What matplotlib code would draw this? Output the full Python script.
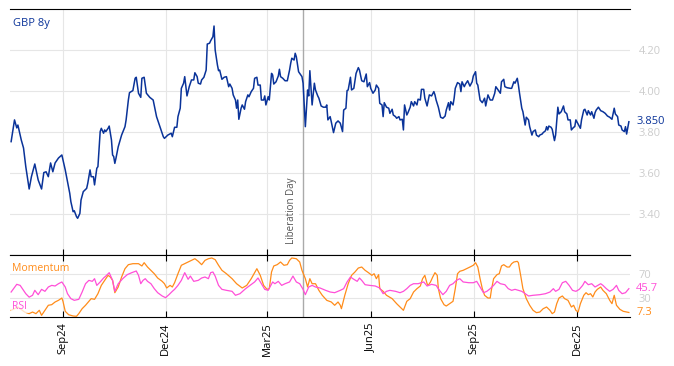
import numpy as np
import pandas as pd
import matplotlib
matplotlib.use('Agg')
import matplotlib.pyplot as plt
import matplotlib.dates as mdates
import matplotlib.transforms as mtransforms

plt.rcParams['font.family'] = ['Open Sans', 'DejaVu Sans']

START = pd.Timestamp('2024-07-16')
END_DAY = 550
LIBERATION = pd.Timestamp('2025-04-02')

# GBP 8y yield: days since START and level
gbp_days = [1, 4, 6, 7, 10, 12, 14, 17, 19, 22, 25, 28, 30, 32, 34, 36, 38, 40, 43, 46,
            49, 51, 53, 54, 56, 57, 59, 60, 62, 63, 65, 68, 69, 71, 72, 74, 75, 77, 78, 80,
            81, 83, 84, 85, 87, 88, 90, 91, 92, 93, 94, 96, 99, 102, 103, 105, 106, 109, 111, 112,
            114, 116, 117, 119, 121, 124, 127, 130, 133, 136, 137, 140, 143, 144, 146, 148, 149, 151, 152, 154,
            155, 157, 159, 161, 163, 164, 166, 167, 169, 170, 172, 174, 175, 177, 178, 180, 181, 182, 184, 185,
            186, 188, 190, 192, 194, 195, 197, 198, 200, 201, 202, 203, 205, 206, 208, 209, 211, 212, 214, 216,
            217, 219, 220, 222, 223, 225, 226, 227, 229, 230, 232, 233, 234, 236, 238, 239, 240, 242, 244, 246,
            248, 249, 250, 252, 253, 254, 256, 257, 259, 260, 262, 264, 265, 266, 268, 270, 271, 273, 274, 276,
            278, 280, 281, 282, 284, 285, 287, 289, 291, 293, 295, 296, 298, 299, 300, 302, 303, 305, 307, 309,
            310, 312, 314, 316, 317, 319, 320, 322, 324, 325, 327, 328, 330, 331, 332, 334, 336, 337, 339, 340,
            342, 343, 345, 346, 348, 349, 350, 352, 353, 355, 356, 358, 359, 361, 362, 364, 365, 367, 368, 370,
            372, 374, 376, 377, 378, 380, 382, 384, 386, 387, 389, 390, 391, 393, 394, 395, 397, 399, 400, 401,
            403, 404, 406, 408, 410, 411, 413, 414, 415, 417, 419, 421, 422, 424, 426, 428, 430, 431, 433, 435,
            436, 438, 439, 441, 444, 445, 447, 448, 450, 451, 452, 454, 455, 457, 458, 460, 461, 463, 464, 466,
            467, 469, 470, 472, 473, 475, 476, 477, 478, 480, 481, 483, 484, 486, 487, 489, 491, 492, 494, 495,
            497, 498, 500, 501, 502, 504, 506, 507, 509, 510, 512, 513, 515, 516, 518, 519, 520, 522, 524, 526,
            528, 530, 532, 534, 536, 537, 539, 540, 542, 543, 545, 546, 547, 549]
gbp_vals = [3.753, 3.859, 3.820, 3.834, 3.761, 3.722, 3.631, 3.522, 3.582, 3.644, 3.566, 3.522, 3.602, 3.606, 3.582, 3.649, 3.606, 3.649, 3.673, 3.688,
            3.615, 3.558, 3.501, 3.460, 3.411, 3.416, 3.387, 3.379, 3.403, 3.468, 3.509, 3.525, 3.550, 3.615, 3.582, 3.582, 3.542, 3.623, 3.631, 3.802,
            3.818, 3.794, 3.810, 3.802, 3.818, 3.829, 3.761, 3.688, 3.680, 3.647, 3.672, 3.728, 3.785, 3.826, 3.859, 3.956, 3.992, 4.002, 4.062, 4.067,
            3.989, 3.969, 4.062, 4.067, 3.989, 3.969, 3.956, 3.875, 3.826, 3.777, 3.769, 3.785, 3.794, 3.777, 3.823, 3.823, 3.875, 3.916, 4.013, 4.038,
            4.070, 3.976, 4.021, 4.054, 4.054, 4.089, 4.070, 4.038, 4.034, 4.054, 4.067, 4.102, 4.229, 4.233, 4.245, 4.265, 4.317, 4.200, 4.127, 4.099,
            4.102, 4.057, 4.067, 4.070, 4.021, 4.034, 4.013, 3.981, 3.956, 3.916, 3.956, 3.862, 3.916, 3.932, 3.911, 3.948, 3.981, 3.972, 3.997, 4.013,
            4.062, 4.067, 4.029, 4.029, 3.956, 3.956, 3.976, 3.932, 3.972, 3.956, 4.086, 4.078, 4.034, 4.045, 4.073, 4.106, 4.070, 4.062, 4.050, 4.050,
            4.102, 4.135, 4.160, 4.151, 4.184, 4.167, 4.094, 4.086, 4.070, 4.038, 3.826, 4.005, 3.976, 4.099, 3.932, 4.038, 4.005, 3.976, 3.965, 3.927,
            3.921, 3.921, 3.932, 3.859, 3.875, 3.850, 3.797, 3.843, 3.854, 3.843, 3.802, 3.907, 3.916, 4.002, 4.005, 4.067, 4.005, 4.013, 4.086, 4.114,
            4.102, 4.050, 4.045, 4.083, 4.021, 4.041, 4.013, 3.989, 4.005, 4.029, 4.013, 3.940, 3.932, 3.875, 3.943, 3.921, 3.916, 3.891, 3.911, 3.883,
            3.875, 3.867, 3.875, 3.859, 3.862, 3.810, 3.932, 3.883, 3.894, 3.921, 3.948, 3.927, 3.948, 3.932, 3.960, 3.956, 4.008, 4.008, 3.965, 3.927,
            3.981, 3.976, 3.997, 3.981, 3.956, 3.921, 3.872, 3.867, 3.878, 3.907, 3.943, 3.907, 3.948, 3.932, 3.965, 4.013, 4.041, 4.034, 3.997, 4.045,
            4.021, 4.033, 4.050, 4.024, 4.045, 4.073, 4.094, 4.038, 4.029, 3.956, 3.943, 3.965, 3.927, 3.981, 3.956, 3.956, 3.989, 4.021, 4.005, 3.989,
            4.045, 4.057, 4.021, 4.016, 4.013, 4.013, 4.045, 4.038, 4.062, 4.029, 3.989, 3.916, 3.899, 3.834, 3.872, 3.859, 3.826, 3.785, 3.802, 3.810,
            3.785, 3.777, 3.785, 3.790, 3.797, 3.806, 3.826, 3.810, 3.829, 3.823, 3.813, 3.758, 3.785, 3.921, 3.888, 3.899, 3.927, 3.899, 3.888, 3.859,
            3.859, 3.810, 3.823, 3.826, 3.859, 3.839, 3.818, 3.859, 3.907, 3.911, 3.883, 3.904, 3.883, 3.899, 3.867, 3.894, 3.907, 3.921, 3.904, 3.899,
            3.891, 3.878, 3.872, 3.862, 3.916, 3.888, 3.875, 3.834, 3.829, 3.810, 3.802, 3.826, 3.790, 3.850]

# RSI
rsi_days = [1, 6, 9, 12, 14, 17, 20, 22, 25, 28, 31, 34, 37, 40, 43, 46, 49, 51, 54, 57,
            61, 64, 67, 70, 73, 75, 77, 80, 83, 85, 88, 91, 93, 96, 100, 104, 108, 112, 114, 116,
            118, 120, 122, 125, 128, 131, 135, 138, 141, 144, 146, 149, 152, 155, 158, 160, 163, 167, 170, 173,
            176, 178, 180, 182, 185, 188, 192, 197, 200, 204, 209, 213, 217, 220, 223, 226, 229, 233, 235, 238,
            241, 244, 248, 251, 254, 257, 260, 262, 265, 268, 271, 275, 280, 284, 288, 293, 296, 299, 302, 305,
            308, 310, 312, 315, 319, 324, 328, 331, 334, 337, 342, 346, 349, 352, 355, 358, 362, 365, 367, 370,
            374, 378, 381, 384, 387, 390, 393, 396, 399, 402, 407, 411, 414, 417, 420, 423, 426, 429, 432, 435,
            439, 442, 445, 448, 451, 454, 457, 460, 464, 470, 475, 479, 482, 484, 487, 490, 493, 496, 499, 502,
            505, 508, 510, 513, 516, 519, 524, 526, 529, 532, 535, 538, 540, 543, 546, 549]
rsi_vals = [40.3, 52.7, 51.0, 43.0, 37.6, 32.0, 35.0, 43.0, 36.0, 44.6, 41.4, 48.4, 51.0, 50.0, 53.7, 56.5, 48.4, 37.6, 29.6, 26.9,
            28.5, 40.3, 53.7, 59.1, 57.5, 61.8, 51.0, 56.5, 62.9, 66.0, 71.5, 59.1, 41.4, 53.7, 61.8, 68.3, 71.5, 74.2, 67.2, 53.7,
            59.1, 61.8, 57.5, 53.7, 45.7, 39.2, 33.9, 31.2, 36.0, 41.4, 44.6, 51.0, 59.1, 71.5, 60.8, 66.0, 57.5, 59.1, 62.9, 64.5,
            61.8, 71.5, 72.6, 66.0, 51.0, 44.6, 43.0, 41.4, 35.0, 37.6, 45.7, 51.0, 56.5, 62.9, 53.7, 44.6, 43.0, 56.5, 53.7, 57.5,
            51.0, 53.7, 56.5, 66.0, 56.5, 53.7, 44.6, 36.0, 48.4, 51.0, 48.4, 46.8, 43.0, 40.3, 39.2, 43.0, 45.7, 56.5, 64.5, 60.8,
            57.5, 62.9, 59.1, 52.1, 51.0, 50.0, 46.8, 37.6, 41.4, 43.0, 41.4, 39.2, 41.4, 45.7, 51.0, 53.7, 53.7, 55.3, 56.5, 50.0,
            52.7, 51.0, 43.0, 36.0, 41.4, 51.0, 53.7, 59.1, 61.8, 56.5, 55.3, 55.3, 57.5, 48.4, 39.2, 41.4, 45.7, 51.0, 57.5, 53.7,
            52.1, 45.7, 43.0, 44.6, 43.0, 41.4, 37.6, 33.9, 35.0, 36.0, 37.6, 40.3, 45.7, 41.4, 44.6, 55.3, 57.5, 51.0, 43.0, 41.4,
            44.6, 51.0, 57.5, 52.1, 53.7, 48.4, 53.7, 51.0, 45.7, 41.4, 44.6, 51.0, 43.0, 37.6, 39.2, 45.7]

# Momentum (scaled 0-100)
mom_days = [1, 7, 13, 17, 20, 23, 26, 28, 31, 34, 37, 40, 43, 46, 47, 49, 52, 56, 59, 61,
            64, 67, 70, 72, 75, 78, 81, 84, 87, 89, 91, 93, 96, 99, 102, 105, 109, 114, 117, 119,
            122, 125, 128, 131, 135, 137, 139, 142, 144, 146, 149, 152, 155, 158, 161, 164, 167, 170, 173, 176,
            179, 182, 185, 188, 192, 197, 201, 206, 210, 214, 219, 222, 225, 228, 230, 232, 234, 237, 240, 243,
            246, 248, 250, 254, 257, 259, 262, 264, 266, 268, 271, 274, 277, 281, 285, 288, 291, 293, 294, 297,
            300, 303, 306, 309, 312, 315, 318, 321, 323, 325, 327, 328, 331, 334, 339, 343, 346, 349, 352, 355,
            358, 361, 364, 366, 368, 370, 371, 373, 375, 377, 379, 380, 382, 385, 387, 390, 393, 395, 397, 399,
            402, 405, 408, 411, 413, 415, 417, 419, 421, 424, 426, 427, 429, 432, 434, 436, 438, 441, 443, 445,
            447, 450, 451, 453, 455, 458, 461, 464, 467, 470, 473, 476, 479, 481, 483, 485, 487, 490, 492, 495,
            498, 500, 502, 504, 506, 509, 511, 513, 515, 517, 519, 521, 524, 526, 529, 532, 534, 536, 538, 541,
            544, 547, 549]
mom_vals = [10.8, 16.1, 8.0, 5.4, 8.0, 5.4, 10.8, 2.7, 10.8, 18.9, 19.9, 24.2, 26.9, 30.6, 25.3, 9.2, 3.7, 1.6, 1.1, 5.4,
            13.4, 18.9, 25.3, 29.6, 28.5, 37.6, 51.0, 59.1, 67.2, 64.5, 59.1, 39.2, 48.4, 64.5, 77.9, 84.4, 86.0, 86.0, 82.3, 87.6,
            80.6, 75.3, 69.8, 62.9, 57.5, 53.7, 46.8, 51.0, 48.4, 55.3, 69.8, 83.4, 86.0, 88.7, 91.4, 94.0, 89.8, 84.4, 91.4, 94.0,
            95.2, 92.5, 83.4, 75.3, 69.8, 61.8, 53.7, 46.8, 51.0, 61.8, 77.9, 67.2, 51.0, 44.6, 45.7, 72.6, 82.3, 84.4, 88.7, 83.4,
            84.4, 91.4, 95.2, 94.0, 88.7, 75.3, 61.8, 48.4, 61.8, 53.7, 53.7, 43.0, 35.0, 26.9, 24.2, 18.9, 24.2, 18.9, 13.4, 35.0,
            53.7, 67.2, 72.6, 79.0, 80.6, 75.3, 71.5, 67.2, 69.8, 61.8, 68.3, 45.7, 41.4, 35.0, 29.6, 21.5, 16.1, 10.8, 25.3, 29.6,
            40.3, 45.7, 50.0, 61.8, 67.2, 53.7, 51.0, 56.5, 64.5, 71.5, 67.2, 45.7, 29.6, 19.9, 17.7, 21.5, 25.3, 45.7, 69.8, 73.7,
            75.3, 77.9, 80.6, 83.4, 87.6, 80.6, 61.8, 45.7, 35.0, 30.6, 30.6, 43.0, 61.8, 68.3, 69.8, 82.3, 84.4, 80.6, 80.6, 86.0,
            88.7, 89.8, 87.6, 67.2, 45.7, 29.6, 18.9, 10.8, 7.0, 8.0, 13.4, 16.1, 10.8, 5.4, 8.0, 21.5, 30.6, 33.9, 29.6, 26.9,
            16.1, 18.9, 10.8, 8.0, 21.5, 35.0, 39.2, 36.0, 37.6, 32.3, 40.3, 44.6, 48.4, 43.0, 37.6, 26.9, 21.5, 35.0, 18.9, 12.4,
            9.2, 8.0, 7.3]

BLUE = '#0a3399'
PINK = '#ff4fd8'
ORANGE = '#ff8c1a'
GRID = '#e6e6e6'
TICKGREY = '#cccccc'


def to_dates(days):
    return START + pd.to_timedelta(days, unit='D')


fig = plt.figure(figsize=(6.74, 3.66), dpi=100)
ax = fig.add_axes([10 / 674, 1 - 255 / 366, 620 / 674, 246 / 366])
ax2 = fig.add_axes([10 / 674, 1 - 317 / 366, 620 / 674, 62 / 366], sharex=ax)

ax.plot(to_dates(gbp_days), gbp_vals, color=BLUE, lw=1.1, zorder=3)
ax2.plot(to_dates(mom_days), mom_vals, color=ORANGE, lw=0.9, zorder=3)
ax2.plot(to_dates(rsi_days), rsi_vals, color=PINK, lw=0.9, zorder=3)

ax.set_xlim(START, START + pd.Timedelta(days=END_DAY))
ax.set_ylim(3.20, 4.40)
ax2.set_ylim(0, 100)

for a in (ax, ax2):
    a.xaxis.set_major_locator(mdates.MonthLocator(bymonth=[3, 6, 9, 12]))
    a.xaxis.set_major_formatter(mdates.DateFormatter('%b%y'))
    a.grid(True, color=GRID, lw=0.8, zorder=0)
    a.spines['left'].set_visible(False)
    a.spines['right'].set_visible(False)
    a.yaxis.tick_right()
    a.tick_params(axis='y', length=0, labelsize=8, labelcolor=TICKGREY, pad=6)
    a.axvline(LIBERATION, color='#aaaaaa', lw=1, zorder=2)

ax.set_yticks([3.40, 3.60, 3.80, 4.00, 4.20])
ax.yaxis.set_major_formatter(plt.FuncFormatter(lambda v, p: f'{v:.2f}'))
ax.tick_params(axis='x', direction='in', length=4, bottom=True, top=False, labelbottom=False)

ax2.set_yticks([30, 70])
ax2.tick_params(axis='x', direction='in', length=4, top=True, bottom=True,
                labelsize=8, labelrotation=90, pad=4)

# labels
ax.text(0.005, 0.965, 'GBP 8y', transform=ax.transAxes, color=BLUE, fontsize=8, va='top', ha='left')
ax.text(LIBERATION - pd.Timedelta(days=5), 3.255, 'Liberation Day', rotation=90, fontsize=7,
        color='#555555', ha='right', va='bottom', zorder=4,
        bbox=dict(facecolor='white', edgecolor='none', pad=1))

tr = mtransforms.blended_transform_factory(ax.transAxes, ax.transData)
ax.text(1.01, gbp_vals[-1], f'{gbp_vals[-1]:.3f}', transform=tr, color=BLUE, fontsize=8, va='center')

tr2 = mtransforms.blended_transform_factory(ax2.transAxes, ax2.transData)
ax2.text(1.01, rsi_vals[-1], f'{rsi_vals[-1]:.1f}', transform=tr2, color=PINK, fontsize=8, va='center')
ax2.text(1.01, mom_vals[-1], f'{mom_vals[-1]:.1f}', transform=tr2, color=ORANGE, fontsize=8, va='center')

ax2.text(0.004, 0.78, 'Momentum', transform=ax2.transAxes, color=ORANGE, fontsize=7.5, va='center', zorder=5)
ax2.text(0.004, 0.17, 'RSI', transform=ax2.transAxes, color=PINK, fontsize=7.5, va='center', zorder=5,
         bbox=dict(facecolor='white', edgecolor='none', alpha=0.75, pad=1))

fig.savefig('out.png', dpi=100)
